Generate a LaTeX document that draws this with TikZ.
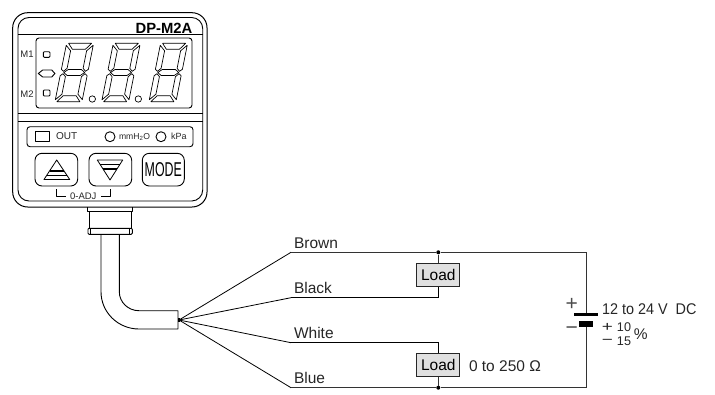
\documentclass[tikz,border=0pt]{standalone}
\usepackage{fontspec}
\setmainfont{Liberation Sans}
\begin{document}
\begin{tikzpicture}[x=1pt,y=-1pt,
  ln/.style={draw=black,line width=0.9pt,line join=round},
  wire/.style={draw=black!80,line width=0.9pt,line join=miter},
  lbl/.style={inner sep=0pt,outer sep=0pt,font=\fontsize{15.5}{16}\selectfont,text=black!85},
  tiny/.style={inner sep=0pt,outer sep=0pt,font=\fontsize{7.5}{8}\selectfont,text=black!85},
  loadbox/.style={draw=black!85,line width=1pt,fill=black!12,minimum width=43pt,minimum height=23pt,inner sep=0pt,font=\fontsize{15.5}{16}\selectfont},
  dotj/.style={circle,fill=black,inner sep=0pt,minimum size=4pt},
  seg/.style={draw=black,line width=0.7pt,line join=round}]
\useasboundingbox (0,0) rectangle (715,394);
% body
\draw[ln,line width=1pt,rounded corners=15pt] (12.7,12.7) rectangle (207,207);
\draw[ln,rounded corners=11pt] (18,17.5) rectangle (202.7,201);
\draw[ln] (18,34)--(202.7,34);
\draw[ln] (18,113.3)--(202.7,113.3);
\draw[ln] (18,121.7)--(202.7,121.7);
\node[anchor=east,inner sep=0pt,font=\bfseries\fontsize{14.8}{15}\selectfont] (model) at (192.5,28) {DP-M2A};
% display
\draw[ln,rounded corners=3pt] (36,38) rectangle (192,108);
\node[tiny,font=\fontsize{9.5}{10}\selectfont] (m1) at (27,54) {M1};
\node[tiny,font=\fontsize{9.5}{10}\selectfont] (m2) at (27,94.3) {M2};
\draw[ln,rounded corners=1pt] (43.3,51.7) rectangle (50,57.3);
\draw[ln,rounded corners=1pt] (43.3,90) rectangle (50,96);
\draw[ln] (38.3,73.5)--(42.7,70)--(51.7,70)--(55,73.5)--(51.7,77)--(42.7,77)--cycle;
\foreach \dx in {66.6,113.3,160.6}{
\begin{scope}[shift={(\dx,43.3)},xslant=0.2]
  \draw[seg] (2,0)--(25,0)--(20,6)--(7,6)--cycle;
  \draw[seg] (2,58.4)--(25,58.4)--(20,52.4)--(7,52.4)--cycle;
  \draw[seg] (3,29.2)--(7,26.2)--(20,26.2)--(24,29.2)--(20,32.2)--(7,32.2)--cycle;
  \draw[seg] (0,2)--(5.5,7.5)--(5.5,25)--(2.5,28)--(0,26)--cycle;
  \draw[seg] (27,2)--(21.5,7.5)--(21.5,25)--(24.5,28)--(27,26)--cycle;
  \draw[seg] (0,56.4)--(5.5,50.9)--(5.5,33.4)--(2.5,30.4)--(0,32.4)--cycle;
  \draw[seg] (27,56.4)--(21.5,50.9)--(21.5,33.4)--(24.5,30.4)--(27,32.4)--cycle;
\end{scope}}
\draw[ln,line width=.7pt] (92.3,99) circle (3.2);
\draw[ln,line width=.7pt] (138.3,99) circle (3.2);
% indicator panel
\draw[ln,rounded corners=3pt] (27,126.7) rectangle (193,146.7);
\draw[ln] (35,131.7) rectangle (49,141);
\node[tiny,anchor=west,font=\fontsize{10}{11}\selectfont] (out) at (56,136.4) {OUT};
\draw[ln] (110,136.7) circle (5);
\node[tiny,anchor=west,font=\fontsize{8.6}{9}\selectfont] (mm) at (119,137) {mmH\textsubscript{2}O};
\draw[ln] (161,136.7) circle (5);
\node[tiny,anchor=west,font=\fontsize{9}{10}\selectfont] (kpa) at (171,136.7) {kPa};
% buttons
\draw[ln,rounded corners=7pt] (35,153.3) rectangle (77.7,186);
\draw[ln,rounded corners=7pt] (89,153.3) rectangle (131.7,186);
\draw[ln,rounded corners=7pt] (142.3,153.3) rectangle (184.3,186);
\draw[ln,line width=.8pt] (56.7,160)--(69.7,179.5)--(44,179.5)--cycle;
\draw[ln,line width=1.5pt] (49.5,171)--(64,171);
\draw[ln,line width=1.5pt] (47,175.5)--(66.5,175.5);
\draw[ln,line width=.8pt] (110,180)--(122.7,160)--(97.3,160)--cycle;
\draw[ln,line width=1.5pt] (100.3,164.5)--(119.7,164.5);
\draw[ln,line width=1.5pt] (103,169)--(117,169);
\node[inner sep=0pt,font=\fontsize{20}{21}\selectfont,xscale=.62] (mode) at (163.3,170) {MODE};
\node[tiny,font=\fontsize{9.5}{10}\selectfont] (adj) at (83.3,196) {0-ADJ};
\draw[ln,line width=.8pt] (56.7,189)--(56.7,196)--(65.7,196);
\draw[ln,line width=.8pt] (110.3,189)--(110.3,196)--(101,196);
% neck
\draw[ln] (87.7,207)--(87.7,211)--(132.7,211)--(132.7,207);
\draw[ln] (89,211)--(89,228);
\draw[ln] (131,211)--(131,228);
\draw[ln,rounded corners=1pt] (88,228.3) rectangle (132.3,234.3);
\draw[ln,line width=.7pt] (90.7,228.3)--(90.7,234.3);
\draw[ln,line width=.7pt] (129.3,228.3)--(129.3,234.3);
% cable
\draw[ln] (101,234.3)--(101,291.7) arc[start angle=180,end angle=90,x radius=38pt,y radius=-37.3pt] -- (178,329)--(178,310.7)--(139,310.7)
  arc[start angle=90,end angle=180,x radius=19.7pt,y radius=-19pt] -- (119.3,234.3);
\coordinate (fan) at (179,320);
\fill (177.5,318) rectangle (179.5,322);
% labels
\node[lbl,anchor=base west] (brown) at (294,248.5) {Brown};
\node[lbl,anchor=base west] (black) at (294,293) {Black};
\node[lbl,anchor=base west] (white) at (294,338) {White};
\node[lbl,anchor=base west] (blue) at (294,383) {Blue};
% wires
\coordinate (w1) at (291,252.3);
\coordinate (w2) at (291,297.7);
\coordinate (w3) at (291,342.7);
\coordinate (w4) at (291,387.7);
\node[loadbox] (load1) at (438.3,275) {Load};
\node[loadbox] (load2) at (438.3,365.2) {Load};
\node[dotj] (d1) at (438.3,252.3) {};
\node[dotj] (d2) at (438.3,387.7) {};
\coordinate (c1) at (586,252.3);
\coordinate (c2) at (586,387.7);
\coordinate (b1) at (586,314.3);
\coordinate (b2) at (586,323.7);
\draw[wire,line width=.8pt,draw=black] (fan)--(w1);
\draw[wire,line width=.8pt,draw=black] (fan)--(w2);
\draw[wire,line width=.8pt,draw=black] (fan)--(w3);
\draw[wire,line width=.8pt,draw=black] (fan)--(w4);
\draw[wire] (w1)--(d1)--(c1)--(b1);
\draw[wire] (w4)--(d2)--(c2)--(b2);
\draw[wire] (d1)--(load1);
\draw[wire] (d2)--(load2);
\draw[wire,draw=black] (w2)--(w2-|load1.south)--(load1.south);
\draw[wire,draw=black] (w3)--(w3-|load2.north)--(load2.north);
% battery
\fill (574,312.8) rectangle (598,315.8);
\fill (579,320.7) rectangle (593,326.7);
\node[lbl,font=\fontsize{21}{22}\selectfont,text=black!70] (plus) at (571.7,304.5) {+};
\node[lbl,font=\fontsize{21}{22}\selectfont,text=black!70] (minus) at (571.7,331) {−};
\node[lbl,anchor=west,xscale=.93] (volt) at (602,309) {12 to 24 V\ \ DC};
\node[lbl,font=\fontsize{14}{15}\selectfont,xscale=1.35] (tp) at (607.5,327.5) {+};
\node[lbl,font=\fontsize{14}{15}\selectfont,xscale=1.35] (tm) at (607.5,342) {−};
\node[lbl,font=\fontsize{12.6}{13}\selectfont] (t10) at (624,327) {10};
\node[lbl,font=\fontsize{12.6}{13}\selectfont] (t15) at (624,341.5) {15};
\node[lbl] (pct) at (640.7,334) {\%};
\node[lbl,anchor=west] (ohm) at (469,365.7) {0 to 250 Ω};
\end{tikzpicture}
\end{document}
